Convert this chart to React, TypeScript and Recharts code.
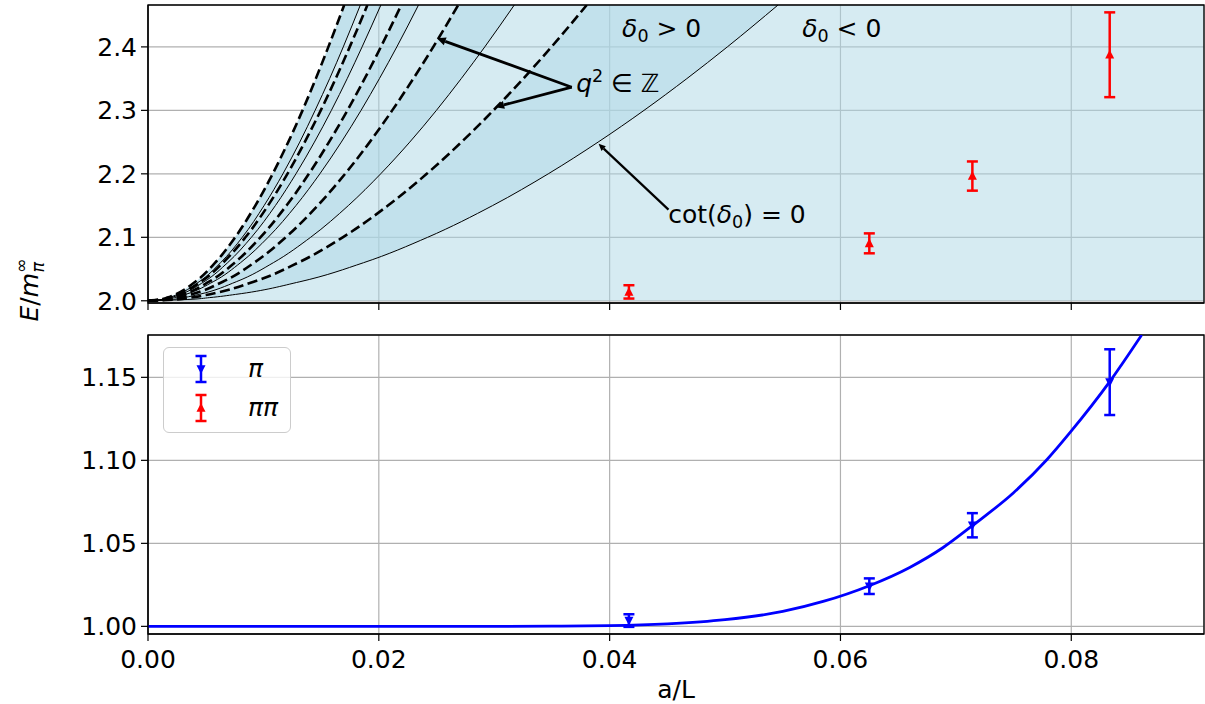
import React from "react"
import {
  Area,
  CartesianGrid,
  ComposedChart,
  ErrorBar,
  Legend,
  Line,
  ReferenceArea,
  ReferenceDot,
  ReferenceLine,
  Scatter,
  XAxis,
  YAxis,
} from "recharts"

const FONT = "DejaVu Sans, sans-serif"
const X_MAX = 0.0915
const TOP_DOMAIN: [number, number] = [1.9965, 2.466]
const BOTTOM_DOMAIN: [number, number] = [0.9954, 1.1755]
const xTicks = [0, 0.02, 0.04, 0.06, 0.08]
const topTicks = [2.0, 2.1, 2.2, 2.3, 2.4]
const bottomTicks = [1.0, 1.05, 1.1, 1.15]

const energyLevels = [2.0, 2.002, 2.005, 2.01, 2.03, 2.06, 2.1, 2.15, 2.2, 2.25, 2.3, 2.35, 2.4, 2.466]

// free levels q^2 = 1..5 (dashed)
const freeQ1 = [0, 0.00236, 0.00373, 0.00528, 0.00916, 0.01301, 0.01687, 0.02079, 0.02415, 0.02716, 0.02993, 0.03252, 0.03496, 0.03802]
const freeQ2 = [0, 0.00167, 0.00264, 0.00373, 0.00648, 0.0092, 0.01193, 0.0147, 0.01708, 0.01921, 0.02116, 0.02299, 0.02472, 0.02688]
const freeQ3 = [0, 0.00136, 0.00215, 0.00305, 0.00529, 0.00751, 0.00974, 0.012, 0.01394, 0.01568, 0.01728, 0.01877, 0.02018, 0.02195]
const freeQ4 = [0, 0.00118, 0.00186, 0.00264, 0.00458, 0.0065, 0.00844, 0.0104, 0.01208, 0.01358, 0.01497, 0.01626, 0.01748, 0.01901]
const freeQ5 = [0, 0.00105, 0.00167, 0.00236, 0.0041, 0.00582, 0.00755, 0.0093, 0.0108, 0.01215, 0.01339, 0.01454, 0.01563, 0.017]

// cot(delta0) = 0 lines (thin solid)
const cotZero0 = [0, 0.00339, 0.00535, 0.00758, 0.01316, 0.01868, 0.02423, 0.02986, 0.03468, 0.039, 0.04298, 0.04669, 0.0502, 0.05459]
const cotZero1 = [0, 0.00197, 0.00311, 0.00441, 0.00765, 0.01086, 0.01409, 0.01736, 0.02016, 0.02268, 0.02499, 0.02714, 0.02918, 0.03174]
const cotZero2 = [0, 0.00145, 0.0023, 0.00325, 0.00565, 0.00802, 0.01041, 0.01282, 0.01489, 0.01675, 0.01846, 0.02005, 0.02156, 0.02344]
const cotZero3 = [0, 0.00125, 0.00198, 0.0028, 0.00486, 0.0069, 0.00896, 0.01104, 0.01282, 0.01442, 0.01589, 0.01726, 0.01855, 0.02018]
const cotZero4 = [0, 0.00114, 0.0018, 0.00255, 0.00443, 0.00629, 0.00817, 0.01006, 0.01169, 0.01315, 0.01448, 0.01574, 0.01692, 0.0184]

// lattice data, a/L = 1/24, 1/16, 1/14, 1/12
const aOverL = [0.04167, 0.0625, 0.07143, 0.08333]
const pipiE = [2.014, 2.0905, 2.1965, 2.3876]
const pipiErr = [0.0105, 0.0157, 0.023, 0.0668]
const piE = [1.0035, 1.0242, 1.0609, 1.1471]
const piErr = [0.0038, 0.0047, 0.0073, 0.0198]

// single pion fit curve
const fitX = [0, 0.02, 0.03, 0.035, 0.04, 0.045, 0.05, 0.055, 0.0585, 0.0625, 0.066, 0.0689, 0.0714, 0.075, 0.0779, 0.0799, 0.0833, 0.0861]
const fitE = [1.0, 1.0, 1.0, 1.0001, 1.0004, 1.0015, 1.004, 1.009, 1.015, 1.0245, 1.0355, 1.0475, 1.0605, 1.0805, 1.1005, 1.1168, 1.1471, 1.1755]

const legendLabels = ["π", "ππ"]
const legendColors = ["#0000ff", "#ff0000"]

const bandRows = energyLevels.map((E, i) => ({
  E,
  q1: freeQ1[i],
  q2: freeQ2[i],
  q3: freeQ3[i],
  q4: freeQ4[i],
  q5: freeQ5[i],
  c0: cotZero0[i],
  c1: cotZero1[i],
  c2: cotZero2[i],
  c3: cotZero3[i],
  c4: cotZero4[i],
}))

const pipiPoints = aOverL.map((x, i) => ({ x, E: pipiE[i], err: pipiErr[i] }))
const piPoints = aOverL.map((x, i) => ({ x, E: piE[i], err: piErr[i] }))
const fitPoints = fitX.map((x, i) => ({ x, E: fitE[i] }))

const dashedKeys = ["q1", "q2", "q3", "q4", "q5"]
const solidKeys = ["c0", "c1", "c2", "c3", "c4"]
// delta0 > 0 bands, between a free level and the cot = 0 line below it
const darkBands: [string, string][] = [
  ["q1", "c0"],
  ["q2", "c1"],
  ["q3", "c2"],
  ["q4", "c3"],
  ["q5", "c4"],
]

// annotation arrows (tail -> tip) in data units
const arrows = [
  { x1: 0.03672, y1: 2.3365, x2: 0.02502, y2: 2.4135, w: 2.8, head: 9 },
  { x1: 0.03672, y1: 2.3365, x2: 0.03008, y2: 2.305, w: 2.8, head: 9 },
  { x1: 0.0451, y1: 2.1436, x2: 0.03904, y2: 2.2473, w: 2.2, head: 7 },
]

const tickStyle = { fontSize: 25, fill: "#000", fontFamily: FONT }
const axisStroke = { stroke: "#000", strokeWidth: 1.2 }

function TriangleUp({ cx, cy, color }: { cx: number; cy: number; color: string }) {
  return <polygon points={`${cx},${cy - 5} ${cx - 4.5},${cy + 3.8} ${cx + 4.5},${cy + 3.8}`} fill={color} />
}

function TriangleDown({ cx, cy, color }: { cx: number; cy: number; color: string }) {
  return <polygon points={`${cx},${cy + 5} ${cx - 4.5},${cy - 3.8} ${cx + 4.5},${cy - 3.8}`} fill={color} />
}

function ArrowShape(props: any) {
  const { x1, y1, x2, y2, w, head } = props
  const dx = x2 - x1
  const dy = y2 - y1
  const len = Math.hypot(dx, dy) || 1
  const ux = dx / len
  const uy = dy / len
  const bx = x2 - ux * head
  const by = y2 - uy * head
  const hw = head * 0.45
  return (
    <g>
      <line x1={x1} y1={y1} x2={bx} y2={by} stroke="#000" strokeWidth={w} />
      <polygon points={`${x2},${y2} ${bx - uy * hw},${by + ux * hw} ${bx + uy * hw},${by - ux * hw}`} fill="#000" />
    </g>
  )
}

function DeltaLabel({ cx, cy, rel }: { cx: number; cy: number; rel: string }) {
  return (
    <text x={cx} y={cy} fontSize={25} fontFamily={FONT} fill="#000">
      <tspan fontStyle="italic">δ</tspan>
      <tspan fontSize={17.5} dy={5}>0</tspan>
      <tspan dy={-5}>{` ${rel} 0`}</tspan>
    </text>
  )
}

function QLabel({ cx, cy }: { cx: number; cy: number }) {
  return (
    <text x={cx} y={cy} fontSize={25} fontFamily={FONT} fill="#000">
      <tspan fontStyle="italic">q</tspan>
      <tspan fontSize={17.5} dy={-10}>2</tspan>
      <tspan dy={10}>{" ∈ ℤ"}</tspan>
    </text>
  )
}

function CotLabel({ cx, cy }: { cx: number; cy: number }) {
  return (
    <text x={cx} y={cy} fontSize={25} fontFamily={FONT} fill="#000">
      <tspan>cot(</tspan>
      <tspan fontStyle="italic">δ</tspan>
      <tspan fontSize={17.5} dy={5}>0</tspan>
      <tspan dy={-5}>{") = 0"}</tspan>
    </text>
  )
}

function LegendBox() {
  return (
    <div
      style={{
        width: 128,
        height: 86,
        boxSizing: "border-box",
        border: "1.3px solid #cccccc",
        borderRadius: 6,
        background: "rgba(255,255,255,0.8)",
      }}
    >
      <svg width={126} height={84} style={{ display: "block" }}>
        {legendLabels.map((label, i) => {
          const cy = 21 + i * 39
          const color = legendColors[i]
          return (
            <g key={label}>
              <line x1={37} y1={cy - 13} x2={37} y2={cy + 13} stroke={color} strokeWidth={2.5} />
              <line x1={31.5} y1={cy - 13} x2={42.5} y2={cy - 13} stroke={color} strokeWidth={2.5} />
              <line x1={31.5} y1={cy + 13} x2={42.5} y2={cy + 13} stroke={color} strokeWidth={2.5} />
              {i === 0 ? <TriangleDown cx={37} cy={cy} color={color} /> : <TriangleUp cx={37} cy={cy} color={color} />}
              <text x={84} y={cy + 8} fontSize={25} fontFamily={FONT} fontStyle="italic" fill="#000">
                {label}
              </text>
            </g>
          )
        })}
      </svg>
    </div>
  )
}

function TopPanel() {
  return (
    <ComposedChart width={1205} height={320} layout="vertical" data={bandRows} margin={{ top: 5, right: 1, bottom: 0, left: 0 }}>
      <CartesianGrid stroke="#b0b0b0" strokeWidth={1.2} />
      <XAxis
        type="number"
        domain={[0, X_MAX]}
        ticks={xTicks}
        tickFormatter={() => ""}
        height={17}
        tickSize={7}
        tickLine={axisStroke}
        axisLine={axisStroke}
        allowDataOverflow
      />
      <YAxis
        type="number"
        dataKey="E"
        domain={TOP_DOMAIN}
        ticks={topTicks}
        reversed
        tickFormatter={(v: number) => v.toFixed(1)}
        width={148}
        tickSize={7}
        tickMargin={4}
        tick={tickStyle}
        tickLine={axisStroke}
        axisLine={axisStroke}
        allowDataOverflow
      />
      <Area
        dataKey={(r: any) => [r.q5, X_MAX]}
        type="monotone"
        fill="#add8e6"
        fillOpacity={0.5}
        stroke="none"
        isAnimationActive={false}
        activeDot={false}
      />
      {darkBands.map(([lo, hi]) => (
        <Area
          key={lo + hi}
          dataKey={(r: any) => [r[lo], r[hi]]}
          type="monotone"
          fill="#add8e6"
          fillOpacity={0.5}
          stroke="none"
          isAnimationActive={false}
          activeDot={false}
        />
      ))}
      {solidKeys.map((k) => (
        <Line key={k} dataKey={k} type="monotone" stroke="#000" strokeWidth={1} dot={false} activeDot={false} isAnimationActive={false} />
      ))}
      {dashedKeys.map((k) => (
        <Line
          key={k}
          dataKey={k}
          type="monotone"
          stroke="#000"
          strokeWidth={2.6}
          strokeDasharray="10 4.5"
          dot={false}
          activeDot={false}
          isAnimationActive={false}
        />
      ))}
      <Scatter
        data={pipiPoints}
        dataKey="x"
        fill="#ff0000"
        isAnimationActive={false}
        shape={(p: any) => <TriangleUp cx={p.cx} cy={p.cy} color="#ff0000" />}
      >
        <ErrorBar dataKey="err" direction="y" width={5.5} stroke="#ff0000" strokeWidth={2.5} isAnimationActive={false} />
      </Scatter>
      {arrows.map((a, i) => (
        <ReferenceLine
          key={i}
          segment={[
            { x: a.x1, y: a.y1 },
            { x: a.x2, y: a.y2 },
          ]}
          shape={(p: any) => <ArrowShape {...p} w={a.w} head={a.head} />}
        />
      ))}
      <ReferenceDot x={0.04108} y={2.415} shape={(p: any) => <DeltaLabel cx={p.cx} cy={p.cy} rel=">" />} />
      <ReferenceDot x={0.05668} y={2.415} shape={(p: any) => <DeltaLabel cx={p.cx} cy={p.cy} rel="<" />} />
      <ReferenceDot x={0.0371} y={2.3296} shape={(p: any) => <QLabel cx={p.cx} cy={p.cy} />} />
      <ReferenceDot x={0.04507} y={2.1226} shape={(p: any) => <CotLabel cx={p.cx} cy={p.cy} />} />
      <ReferenceArea x1={0} x2={X_MAX} y1={TOP_DOMAIN[0]} y2={TOP_DOMAIN[1]} fill="none" stroke="#000" strokeWidth={1.3} />
    </ComposedChart>
  )
}

function BottomPanel() {
  return (
    <ComposedChart width={1205} height={384} margin={{ top: 15, right: 1, bottom: 0, left: 0 }}>
      <CartesianGrid stroke="#b0b0b0" strokeWidth={1.2} />
      <XAxis
        type="number"
        dataKey="x"
        domain={[0, X_MAX]}
        ticks={xTicks}
        tickFormatter={(v: number) => v.toFixed(2)}
        height={70}
        tickSize={7}
        tickMargin={9}
        tick={tickStyle}
        tickLine={axisStroke}
        axisLine={axisStroke}
        allowDataOverflow
      />
      <YAxis
        type="number"
        domain={BOTTOM_DOMAIN}
        ticks={bottomTicks}
        tickFormatter={(v: number) => v.toFixed(2)}
        width={148}
        tickSize={7}
        tickMargin={4}
        tick={tickStyle}
        tickLine={axisStroke}
        axisLine={axisStroke}
        allowDataOverflow
      />
      <Line data={fitPoints} dataKey="E" type="monotone" stroke="#0000ff" strokeWidth={2.8} dot={false} activeDot={false} isAnimationActive={false} />
      <Scatter
        data={piPoints}
        dataKey="E"
        fill="#0000ff"
        isAnimationActive={false}
        shape={(p: any) => <TriangleDown cx={p.cx} cy={p.cy} color="#0000ff" />}
      >
        <ErrorBar dataKey="err" direction="y" width={5.5} stroke="#0000ff" strokeWidth={2.5} isAnimationActive={false} />
      </Scatter>
      <ReferenceArea x1={0} x2={X_MAX} y1={BOTTOM_DOMAIN[0]} y2={BOTTOM_DOMAIN[1]} fill="none" stroke="#000" strokeWidth={1.3} />
      <Legend
        layout="vertical"
        align="center"
        verticalAlign="middle"
        content={() => <LegendBox />}
        wrapperStyle={{ left: 163, top: 27, width: 128, height: 86 }}
      />
    </ComposedChart>
  )
}

export default function App() {
  return (
    <div style={{ position: "absolute", left: 0, top: 0, width: 1205, height: 704, background: "#fff", fontFamily: FONT }}>
      <div style={{ position: "absolute", left: 0, top: 0 }}>
        <TopPanel />
      </div>
      <div style={{ position: "absolute", left: 0, top: 320 }}>
        <BottomPanel />
      </div>
      <svg width={1205} height={704} style={{ position: "absolute", left: 0, top: 0, pointerEvents: "none" }}>
        <text x={676} y={698} textAnchor="middle" fontSize={25} fontFamily={FONT} fill="#000">
          a/L
        </text>
        <text transform="translate(38,290) rotate(-90)" textAnchor="middle" fontSize={25} fontFamily={FONT} fill="#000">
          <tspan fontStyle="italic">E</tspan>
          <tspan>/</tspan>
          <tspan fontStyle="italic">m</tspan>
          <tspan fontSize={17.5} dy={-11}>∞</tspan>
          <tspan fontSize={17.5} fontStyle="italic" dx={-14} dy={17}>π</tspan>
        </text>
      </svg>
    </div>
  )
}
